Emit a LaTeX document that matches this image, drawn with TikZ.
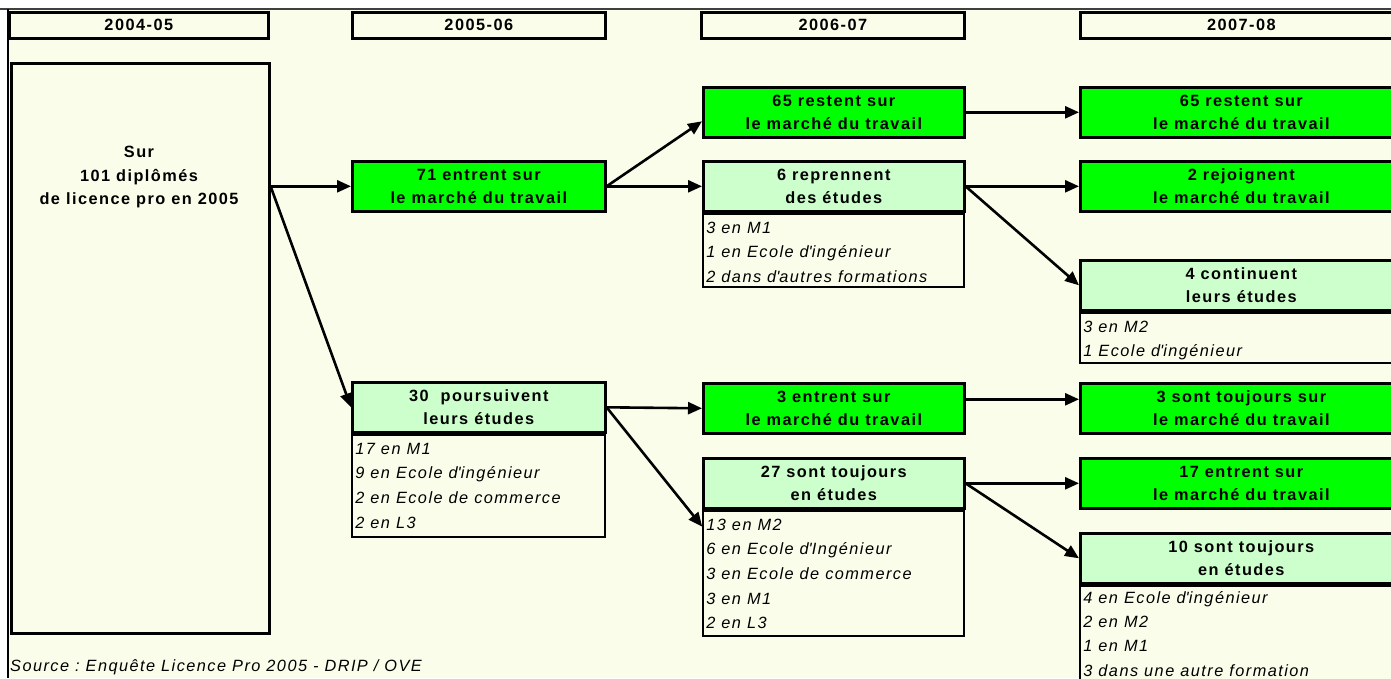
\documentclass[tikz,border=0pt]{standalone}
\usepackage{fontspec}
\setmainfont{Liberation Sans}
\newfontfamily\boitefont[LetterSpace=9]{Liberation Sans}
\usetikzlibrary{arrows.meta,positioning}
\frenchspacing

\definecolor{fond}{RGB}{251,253,235}
\definecolor{vert}{RGB}{0,255,0}
\definecolor{vertpale}{RGB}{204,255,204}
\definecolor{cadre}{RGB}{64,64,64}

\begin{document}
\begin{tikzpicture}[x=1pt,y=-1pt,
    annee/.style={draw,line width=2.6pt,fill=fond,minimum height=26pt,inner sep=0pt,
      font={\boitefont\bfseries\fontsize{16.3}{20}\selectfont}},
    boite/.style={draw,line width=2.6pt,minimum height=50pt,inner sep=0pt,align=center,
      font={\boitefont\bfseries\fontsize{16.3}{23.5}\selectfont}},
    emploi/.style={boite,fill=vert},
    etudes/.style={boite,fill=vertpale},
    detail/.style={draw,line width=2.2pt,fill=fond,inner sep=0pt},
    liste/.style={align=left,inner xsep=4pt,inner ysep=9pt,
      font={\boitefont\itshape\fontsize{16.3}{24.7}\selectfont}},
    fleche/.style={line width=2.6pt,-{Triangle[length=14pt,width=12pt]}}]
  \clip (0,0) rectangle (1391,678);
  \fill[white] (0,0) rectangle (1391,678);
  \fill[fond] (8,9) rectangle (1391,678);
  \draw[cadre,line width=1.6pt] (0,9) -- (1391,9);
  \draw[line width=2.2pt] (8,9) -- (8,678);

  % annees
  \node[annee,minimum width=259pt,anchor=north west] (a0405) at (8,11) {2004-05};
  \node[annee,minimum width=253pt,anchor=north west] (a0506) at (351,11) {2005-06};
  \node[annee,minimum width=263pt,anchor=north west] (a0607) at (700,11) {2006-07};
  \node[annee,minimum width=322pt,anchor=north west] (a0708) at (1079,11) {2007-08};

  % 2004-05
  \node[detail,line width=2.6pt,minimum width=258pt,minimum height=570pt,anchor=north west] (dipl) at (10,62) {};
  \node[boite,draw=none,minimum height=0pt] (diplt) at (139,177) {Sur\\101 diplômés\\de licence pro en 2005};

  % 2005-06
  \node[emploi,minimum width=253pt,anchor=north west] (m71) at (351,160) {71 entrent sur\\le marché du travail};
  \node[etudes,minimum width=253pt,anchor=north west] (p30) at (351,381) {30\ \ poursuivent\\leurs études};
  \node[detail,minimum width=253pt,minimum height=102pt,anchor=north] (p30d) at (p30.south) {};
  \node[liste,anchor=north west] (p30l) at (p30d.north west) {17 en M1\\9 en Ecole d\textquotesingle ingénieur\\2 en Ecole de commerce\\2 en L3};

  % 2006-07
  \node[emploi,minimum width=261pt,anchor=north west] (r65) at (702,86) {65 restent sur\\le marché du travail};
  \node[etudes,minimum width=261pt,anchor=north west] (rep6) at (702,160) {6 reprennent\\des études};
  \node[detail,minimum width=261pt,minimum height=73pt,anchor=north] (rep6d) at (rep6.south) {};
  \node[liste,anchor=north west] (rep6l) at (rep6d.north west) {3 en M1\\1 en Ecole d\textquotesingle ingénieur\\2 dans d\textquotesingle autres formations};
  \node[emploi,minimum width=261pt,anchor=north west] (e3) at (702,382) {3 entrent sur\\le marché du travail};
  \node[etudes,minimum width=261pt,anchor=north west] (s27) at (702,457) {27 sont toujours\\en études};
  \node[detail,minimum width=261pt,minimum height=125pt,anchor=north] (s27d) at (s27.south) {};
  \node[liste,anchor=north west] (s27l) at (s27d.north west) {13 en M2\\6 en Ecole d\textquotesingle Ingénieur\\3 en Ecole de commerce\\3 en M1\\2 en L3};

  % 2007-08
  \node[emploi,minimum width=322pt,anchor=north west] (r65b) at (1079,86) {65 restent sur\\le marché du travail};
  \node[emploi,minimum width=322pt,anchor=north west] (rej2) at (1079,160) {2 rejoignent\\le marché du travail};
  \node[etudes,minimum width=322pt,anchor=north west] (cont4) at (1079,259) {4 continuent\\leurs études};
  \node[detail,minimum width=322pt,minimum height=50pt,anchor=north] (cont4d) at (cont4.south) {};
  \node[liste,anchor=north west] (cont4l) at (cont4d.north west) {3 en M2\\1 Ecole d\textquotesingle ingénieur};
  \node[emploi,minimum width=322pt,anchor=north west] (s3) at (1079,382) {3 sont toujours sur\\le marché du travail};
  \node[emploi,minimum width=322pt,anchor=north west] (e17) at (1079,457) {17 entrent sur\\le marché du travail};
  \node[etudes,minimum width=322pt,anchor=north west] (t10) at (1079,532) {10 sont toujours\\en études};
  \node[detail,minimum width=322pt,minimum height=110pt,anchor=north] (t10d) at (t10.south) {};
  \node[liste,inner ysep=6.5pt,font={\boitefont\itshape\fontsize{16.3}{24.3}\selectfont},anchor=north west] (t10l) at (t10d.north west) {4 en Ecole d\textquotesingle ingénieur\\2 en M2\\1 en M1\\3 dans une autre formation};

  \node[liste,inner sep=0pt,anchor=west] (source) at (10,667) {Source : Enquête Licence Pro 2005 - DRIP / OVE};

  \coordinate (sortie) at (dipl.east |- m71.west);
  \begin{scope}[fleche]
    \draw (sortie) -- (m71.west);
    \draw (sortie) -- (p30.west);
    \draw (m71.east) -- ([yshift=-9pt]r65.west);
    \draw (m71.east) -- (rep6.west);
    \draw (r65.east) -- (r65b.west);
    \draw (rep6.east) -- (rej2.west);
    \draw (rep6.east) -- (cont4.west);
    \draw (p30.east) -- (e3.west);
    \draw (p30.east) -- ([yshift=-17pt]s27d.north west);
    \draw ([yshift=9pt]e3.east) -- ([yshift=9pt]s3.west);
    \draw (s27.east) -- (e17.west);
    \draw (s27.east) -- (t10.west);
  \end{scope}
\end{tikzpicture}
\end{document}
